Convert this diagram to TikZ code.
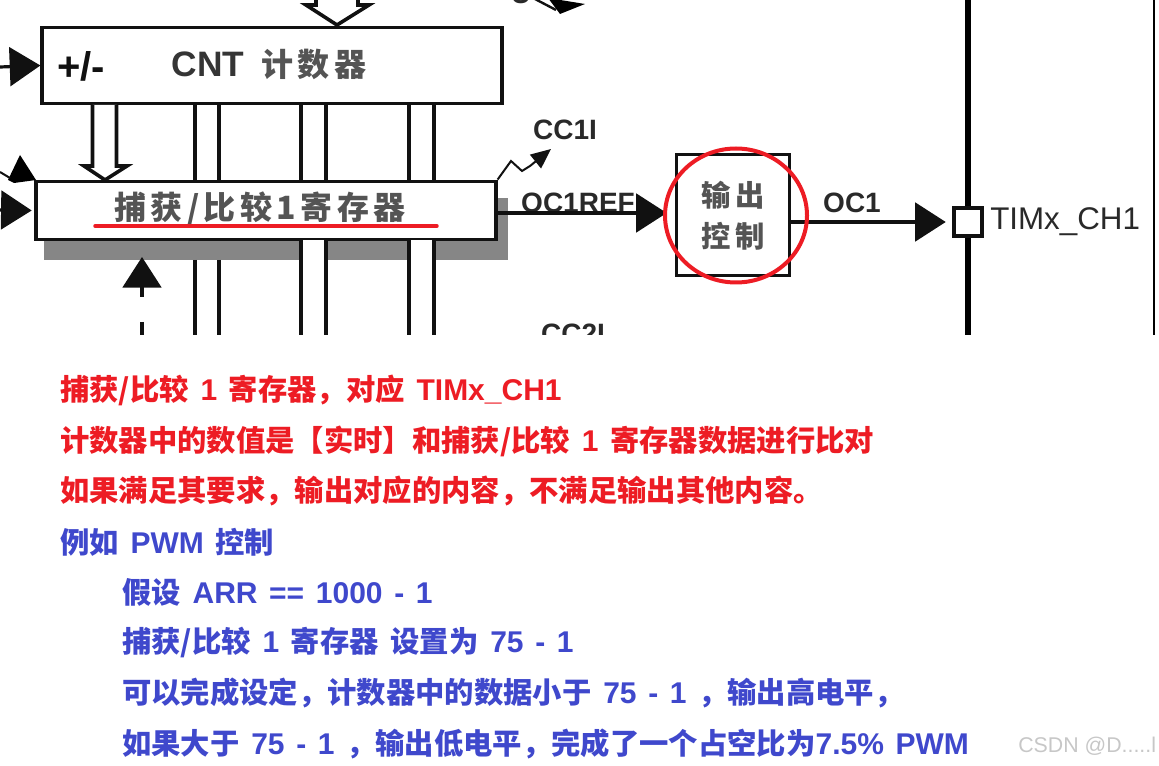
\documentclass[tikz,border=0pt]{standalone}
\usepackage{fontspec}
\usepackage{xcolor}
\usetikzlibrary{arrows.meta}
\setmainfont{Liberation Sans}
\newfontfamily\cjk{Noto Sans CJK SC}
\newfontfamily\cjkwide[LetterSpace=14]{Noto Sans CJK SC}
\newfontfamily\lafont[WordSpace=1.4]{Liberation Sans}
\newcommand{\la}[1]{{\lafont\bfseries\fontsize{22.5}{22.5}\selectfont #1}}
\definecolor{notered}{HTML}{ED1C24}
\definecolor{noteblue}{HTML}{3F48CC}
\definecolor{diagink}{HTML}{111111}
\tikzset{
    blockbox/.style={draw=diagink, line width=2.4pt, fill=white, inner sep=0pt},
    busline/.style={draw=diagink, line width=2.7pt},
    sigline/.style={draw=diagink, line width=2.4pt},
    sigtip/.style={-{Triangle[length=23pt,width=29pt]}},
    redmark/.style={draw=notered, line width=2.6pt},
    diaglabel/.style={font=\fontsize{21}{21}\selectfont\bfseries, text=diagink!90, inner sep=0pt},
    blocktext/.style={font=\cjkwide\bfseries\fontsize{#1}{#1}\selectfont, text=diagink!72, inner sep=0pt},
    redline/.style={font=\cjk\bfseries\fontsize{22}{22}\selectfont, text=notered, anchor=west, inner sep=0pt},
    blueline/.style={font=\cjk\bfseries\fontsize{22}{22}\selectfont, text=noteblue, anchor=west, inner sep=0pt},
}

\begin{document}
\begin{tikzpicture}[x=0.75pt,y=-0.75pt]
    \useasboundingbox (0,0) rectangle (1159,766);
    \begin{scope}
        \clip (0,0) rectangle (1159,335);

        % shadow of the register
        \fill[gray!95] (44,198) rectangle (508,260);

        % blocks
        \node[blockbox, minimum width=345pt, minimum height=57.5pt] (cntbox) at (272,65.5) {};
        \node[blockbox, minimum width=345pt, minimum height=44pt] (regbox) at (266,210.5) {};
        \node[blockbox, minimum width=85pt, minimum height=91pt] (outbox) at (733,215) {};
        \node[blockbox, minimum width=21pt, minimum height=21pt] (pinbox) at (968,222) {};

        % texts in the blocks
        \node[font=\fontsize{30}{30}\selectfont\bfseries, text=diagink, inner sep=0pt] (signlabel) at (81,66) {+/-};
        \node[font=\fontsize{26.5}{26.5}\selectfont\bfseries, text=diagink!85, inner sep=0pt] (cntlabel) at (208,64) {CNT};
        \node[blocktext=24] (cntname) at (314,64) {计数器};
        \node[blocktext=24] (regname) at (260,209) {捕获/比较\textbf{1}寄存器};
        \node[blocktext=22] (outtop) at (733,195) {输出};
        \node[blocktext=22] (outbot) at (733,236) {控制};

        % labels
        \node[diaglabel] (cc1label) at (565,130) {CC1I};
        \node[diaglabel] (cc2label) at (573,334) {CC2I};
        \node[diaglabel] (oc1reflabel) at (578,203) {OC1REF};
        \node[diaglabel] (oc1label) at (852,203) {OC1};
        \node[font=\fontsize{23.5}{23.5}\selectfont, text=diagink!90, inner sep=0pt, anchor=west] (chlabel) at (990,222) {TIMx\_CH1};
        \node[diaglabel] (ulabel) at (521,-6) {U};

        % pairs of bus lines
        \foreach \n/\xa/\xb/\yb in {a/195/219/260, b/301/326/240, c/409/434/240} {
            \coordinate (up\n l) at (\xa,104);
            \coordinate (up\n r) at (\xb,104);
            \coordinate (mid\n l) at (\xa,181);
            \coordinate (mid\n r) at (\xb,181);
            \coordinate (dn\n l) at (\xa,\yb);
            \coordinate (dn\n r) at (\xb,\yb);
            \coordinate (end\n l) at (\xa,335);
            \coordinate (end\n r) at (\xb,335);
            \fill[white] (dn\n l) rectangle (end\n r);
            \draw[busline] (up\n l) -- (mid\n l);
            \draw[busline] (up\n r) -- (mid\n r);
            \draw[busline] (dn\n l) -- (end\n l);
            \draw[busline] (dn\n r) -- (end\n r);
        }

        % hollow arrows
        \coordinate (cntfeedl) at (92.5,105);
        \coordinate (cntfeedr) at (116.5,105);
        \coordinate (cnttip) at (105,180);
        \draw[busline, fill=white] (cntfeedl) -- (92.5,166) -- (84,166) -- (cnttip) -- (127,166) -- (116.5,166) -- (cntfeedr);
        \coordinate (topfeedl) at (316,-3);
        \coordinate (topfeedr) at (358,-3);
        \coordinate (toptip) at (337,25);
        \draw[busline, fill=white] (topfeedl) -- (316,5) -- (306,5) -- (toptip) -- (369,5) -- (358,5) -- (topfeedr);

        % signals
        \coordinate (cntin) at (0,67);
        \coordinate (regin) at (0,210);
        \coordinate (captin) at (142,297);
        \coordinate (captgapa) at (142,322);
        \coordinate (captgapb) at (142,335);
        \coordinate (captout) at (142,257);
        \draw[sigline, sigtip] (cntin) -- (cntbox.west);
        \draw[sigline, sigtip, shorten >=2pt] (regin) -- (regbox.west);
        \draw[sigline, sigtip] (captin) -- (captout);
        \draw[sigline] (captgapa) -- (captgapb);
        \draw[sigline, sigtip, shorten >=6pt] (regbox.east) ++(0,2.5) coordinate (regout) -- (outbox.west |- regout);
        \draw[sigline, sigtip, shorten >=5pt] (outbox.east |- pinbox.west) -- (pinbox.west);
        \draw[line width=4pt, draw=black] (968,0) coordinate (railtop) -- (pinbox.north);
        \draw[line width=4pt, draw=black] (pinbox.south) -- (968,335) coordinate (railbot);
        \draw[line width=1.6pt, draw=black] (1154,0) coordinate (edgetop) -- (1154,335) coordinate (edgebot);

        % interrupt line
        \draw[line width=1.5pt, draw=diagink, -{Triangle[length=15pt,width=13pt]}]
            (regbox.north east) -- (511,161) -- (522,171) -- (530,166) -- (551,149);

        % cut off signals at the top and left
        \fill[black] (8,180) -- (20,155) -- (36,180) -- (14,183) -- cycle;
        \draw[line width=1.5pt, draw=diagink] (0,172) -- (10,178);
        \draw[line width=1.8pt, draw=diagink] (535,-1) -- (556,10);
        \fill[black] (548,-2) -- (585,4) -- (560,14) -- cycle;
    \end{scope}

    % red marks
    \draw[redmark, line cap=round] (95,226) coordinate (marka) -- (437,226) coordinate (markb);
    \draw[redmark, line width=3pt] (736,215.5) ellipse [x radius=71, y radius=67];

    % notes
    \node[redline] (note1) at (60,390.5) {捕获/比较\la{ 1 }寄存器，对应\la{ TIMx\_CH1}};
    \node[redline] (note2) at (60,441.5) {计数器中的数值是【实时】和捕获/比较\la{ 1 }寄存器数据进行比对};
    \node[redline] (note3) at (60,491.5) {如果满足其要求，输出对应的内容，不满足输出其他内容。};
    \node[blueline] (note4) at (60,542.5) {例如\la{ PWM }控制};
    \node[blueline] (note5) at (122,592.5) {假设\la{ ARR == 1000 - 1}};
    \node[blueline] (note6) at (122,642.5) {捕获/比较\la{ 1 }寄存器\la{ }设置为\la{ 75 - 1}};
    \node[blueline] (note7) at (122,692.5) {可以完成设定，计数器中的数据小于\la{ 75 - 1 }，输出高电平，};
    \node[blueline] (note8) at (122,743.5) {如果大于\la{ 75 - 1 }，输出低电平，完成了一个占空比为\la{7.5\% PWM}};
    \node[font=\fontsize{16}{16}\selectfont, text=black!22, anchor=west, inner sep=0pt] (stamp) at (1018,746) {CSDN @D.....l};
\end{tikzpicture}
\end{document}
